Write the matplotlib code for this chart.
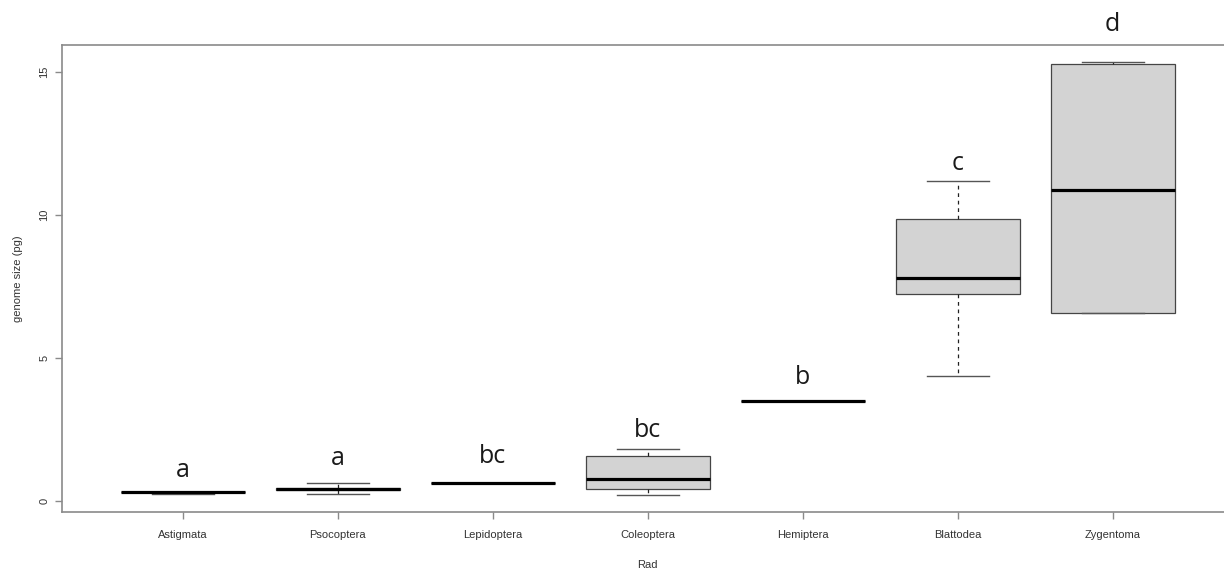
import matplotlib
matplotlib.use("Agg")
from matplotlib import pyplot as plt

# Orders on the x axis
ORDERS = ["Astigmata", "Psocoptera", "Lepidoptera", "Coleoptera",
          "Hemiptera", "Blattodea", "Zygentoma"]
# Five number summaries (pg)
WHISK_LO = [0.24, 0.24, 0.62, 0.22, 3.50, 4.36, 6.56]
Q1 = [0.33, 0.38, 0.62, 0.42, 3.50, 7.24, 6.56]
MEDIAN = [0.33, 0.41, 0.62, 0.77, 3.50, 7.79, 10.86]
Q3 = [0.33, 0.45, 0.62, 1.57, 3.50, 9.85, 15.27]
WHISK_HI = [0.33, 0.64, 0.62, 1.82, 3.50, 11.19, 15.34]
# Significance letters and the height they sit at
LETTERS = ["a", "a", "bc", "bc", "b", "c", "d"]
LETTER_Y = [1.08, 1.50, 1.55, 2.48, 4.30, 11.78, 16.64]
Y_TICKS = [0, 5, 10, 15]

AXIS_GREY = "#8a8a8a"
TEXT_GREY = "#333333"


def main():
	fig = plt.figure(figsize=(12.24, 5.70), dpi=100)
	# the right side of the R plot region is cut off in the original
	ax = fig.add_axes([0.0504, 0.1012, 0.9573, 0.8200])

	stats = []
	for i in range(len(ORDERS)):
		stats.append(dict(label=ORDERS[i], whislo=WHISK_LO[i], q1=Q1[i],
			med=MEDIAN[i], q3=Q3[i], whishi=WHISK_HI[i]))

	ax.bxp(stats, positions=range(1, len(ORDERS) + 1), widths=0.8,
		showfliers=False, patch_artist=True,
		boxprops=dict(facecolor="#d3d3d3", edgecolor="#454545", linewidth=0.9),
		medianprops=dict(color="black", linewidth=2.3, solid_capstyle="butt"),
		whiskerprops=dict(color="#222222", linewidth=0.9, linestyle=(0, (3, 3))),
		capprops=dict(color="#555555", linewidth=1.0),
		capwidths=0.4)

	for i, letter in enumerate(LETTERS):
		ax.text(i + 1, LETTER_Y[i], letter, ha="center", va="center",
			fontsize=18, family="Open Sans", color="#1a1a1a", clip_on=False)

	ax.set_xlim(0.22, 7.78)
	ax.set_ylim(-0.395, 15.94)
	ax.set_yticks(Y_TICKS)
	ax.set_yticklabels([str(v) for v in Y_TICKS], rotation=90, va="center")

	for side in ax.spines:
		ax.spines[side].set_color(AXIS_GREY)
		ax.spines[side].set_linewidth(1.2)
	ax.tick_params(axis="both", colors=AXIS_GREY, length=5, width=1.0,
		labelcolor=TEXT_GREY, labelsize=8)
	ax.tick_params(axis="x", pad=8)
	ax.tick_params(axis="y", pad=4)
	for lab in ax.get_xticklabels() + ax.get_yticklabels():
		lab.set_family("Liberation Sans")

	ax.set_xlabel("Rad", fontsize=8, family="Liberation Sans", color=TEXT_GREY, labelpad=14)
	ax.set_ylabel("genome size (pg)", fontsize=8, family="Liberation Sans",
		color=TEXT_GREY, labelpad=12)

	fig.savefig("out.png", dpi=100)


if __name__ == '__main__':
	main()
